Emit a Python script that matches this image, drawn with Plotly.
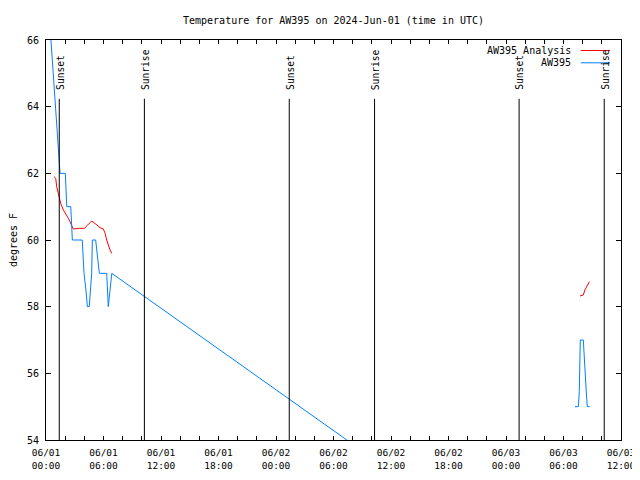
import plotly.graph_objects as go

# ---- data ----
obs_times = [
    "2024-06-01 00:31", "2024-06-01 01:28", "2024-06-01 02:01", "2024-06-01 02:10",
    "2024-06-01 02:35", "2024-06-01 02:45", "2024-06-01 03:47", "2024-06-01 03:58",
    "2024-06-01 04:10", "2024-06-01 04:19", "2024-06-01 04:31", "2024-06-01 04:46",
    "2024-06-01 04:50", "2024-06-01 05:11", "2024-06-01 05:34", "2024-06-01 06:20",
    "2024-06-01 06:30", "2024-06-01 06:52", "2024-06-02 12:00", "2024-06-02 12:05",
    "2024-06-03 07:12", "2024-06-03 07:33", "2024-06-03 07:39", "2024-06-03 07:41",
    "2024-06-03 07:45", "2024-06-03 08:04", "2024-06-03 08:07", "2024-06-03 08:13",
    "2024-06-03 08:19", "2024-06-03 08:25", "2024-06-03 08:29", "2024-06-03 08:44",
]
obs_temps = [
    66.0, 62.0, 62.0, 61.0,
    61.0, 60.0, 60.0, 59.0,
    58.5, 58.0, 58.0, 59.0,
    60.0, 60.0, 59.0, 59.0,
    58.0, 59.0, 53.06, None,
    55.0, 55.0, 55.45, 56.5,
    57.0, 57.0, 56.7, 56.25,
    55.7, 55.25, 55.0, 55.0,
]

ana_times = [
    "2024-06-01 00:50", "2024-06-01 01:01", "2024-06-01 01:07", "2024-06-01 01:18",
    "2024-06-01 01:24", "2024-06-01 01:32", "2024-06-01 01:49", "2024-06-01 02:10",
    "2024-06-01 02:20", "2024-06-01 02:30", "2024-06-01 02:41", "2024-06-01 02:51",
    "2024-06-01 03:28", "2024-06-01 04:00", "2024-06-01 04:21", "2024-06-01 04:46",
    "2024-06-01 05:11", "2024-06-01 05:38", "2024-06-01 05:59", "2024-06-01 06:10",
    "2024-06-01 06:20", "2024-06-01 06:30", "2024-06-01 06:41", "2024-06-01 06:52",
    "2024-06-02 00:00",
    "2024-06-03 07:43", "2024-06-03 08:04", "2024-06-03 08:14", "2024-06-03 08:25",
    "2024-06-03 08:35", "2024-06-03 08:42",
]
ana_temps = [
    61.9, 61.85, 61.6, 61.4,
    61.3, 61.1, 60.9, 60.75,
    60.65, 60.55, 60.42, 60.33,
    60.35, 60.35, 60.45, 60.57,
    60.48, 60.37, 60.33, 60.2,
    60.0, 59.85, 59.7, 59.6,
    None,
    58.32, 58.35, 58.5, 58.62,
    58.72, 58.75,
]

sun_times = ["2024-06-01 01:23", "2024-06-01 10:16", "2024-06-02 01:23",
             "2024-06-02 10:17", "2024-06-03 01:22", "2024-06-03 10:15"]
sun_labels = ["Sunset", "Sunrise", "Sunset", "Sunrise", "Sunset", "Sunrise"]

series_names = ["AW395 Analysis", "AW395"]
series_colors = ["#ff0000", "#0080ff"]

title_text = "Temperature for AW395 on 2024-Jun-01 (time in UTC)"
y_title = "degrees F"
x_range = ["2024-06-01 00:00", "2024-06-03 12:00"]
y_range = [54, 66]

FONT = "DejaVu Sans Mono"

fig = go.Figure()
fig.add_trace(go.Scatter(x=ana_times, y=ana_temps, mode="lines", name=series_names[0],
                         line=dict(color=series_colors[0], width=1), connectgaps=False))
fig.add_trace(go.Scatter(x=obs_times, y=obs_temps, mode="lines", name=series_names[1],
                         line=dict(color=series_colors[1], width=1), connectgaps=False))

# sunrise / sunset markers
for t, lab in zip(sun_times, sun_labels):
    fig.add_shape(type="line", xref="x", yref="paper", x0=t, x1=t, y0=0, y1=0.853,
                  line=dict(color="black", width=1))
    fig.add_annotation(x=t, xref="x", y=0.8697, yref="paper", text=lab, textangle=-90,
                       showarrow=False, xanchor="center", yanchor="bottom", xshift=1,
                       font=dict(family=FONT, size=9.6, color="black"))

# gnuplot-style legend (text then sample line on the right)
leg_y = [0.9738, 0.943]
for name, col, yy in zip(series_names, series_colors, leg_y):
    fig.add_annotation(x=0.917, xref="paper", y=yy, yref="paper", text=name,
                       showarrow=False, xanchor="right", yanchor="middle",
                       font=dict(family=FONT, size=10, color="black"))
    fig.add_shape(type="line", xref="paper", yref="paper", x0=0.930, x1=0.981,
                  y0=yy, y1=yy, line=dict(color=col, width=1))

# page body has an 8px margin: size the figure so the plot lands where the reference has it
fig.update_layout(
    width=632, height=464,
    margin=dict(l=38, r=19, t=32, b=32),
    paper_bgcolor="white", plot_bgcolor="white",
    showlegend=False,
    font=dict(family=FONT, size=10, color="black"),
    title=dict(text=title_text, x=0.5, xref="paper", xanchor="center", y=0.972, yanchor="middle",
               font=dict(family=FONT, size=10, color="black")),
)
fig.update_xaxes(
    type="date", range=x_range, showgrid=False, zeroline=False, automargin=False,
    showline=True, linecolor="black", linewidth=1, mirror="ticks",
    ticks="inside", ticklen=4, tickcolor="black",
    tick0="2024-06-01", dtick=6 * 3600 * 1000, tickformat="%m/%d<br>%H:%M",
    minor=dict(ticks="inside", ticklen=4, dtick=2 * 3600 * 1000, tickcolor="black", showgrid=False),
    tickfont=dict(family=FONT, size=9.5), ticklabelstandoff=4,
)
fig.update_yaxes(
    range=y_range, showgrid=False, zeroline=False, automargin=False,
    showline=True, linecolor="black", linewidth=1, mirror="ticks",
    ticks="inside", ticklen=5, tickcolor="black", dtick=2,
    tickfont=dict(family=FONT, size=10), ticklabelstandoff=4,
    title=dict(text=y_title, standoff=8, font=dict(family=FONT, size=10)),
)

fig.write_html("out.html")
